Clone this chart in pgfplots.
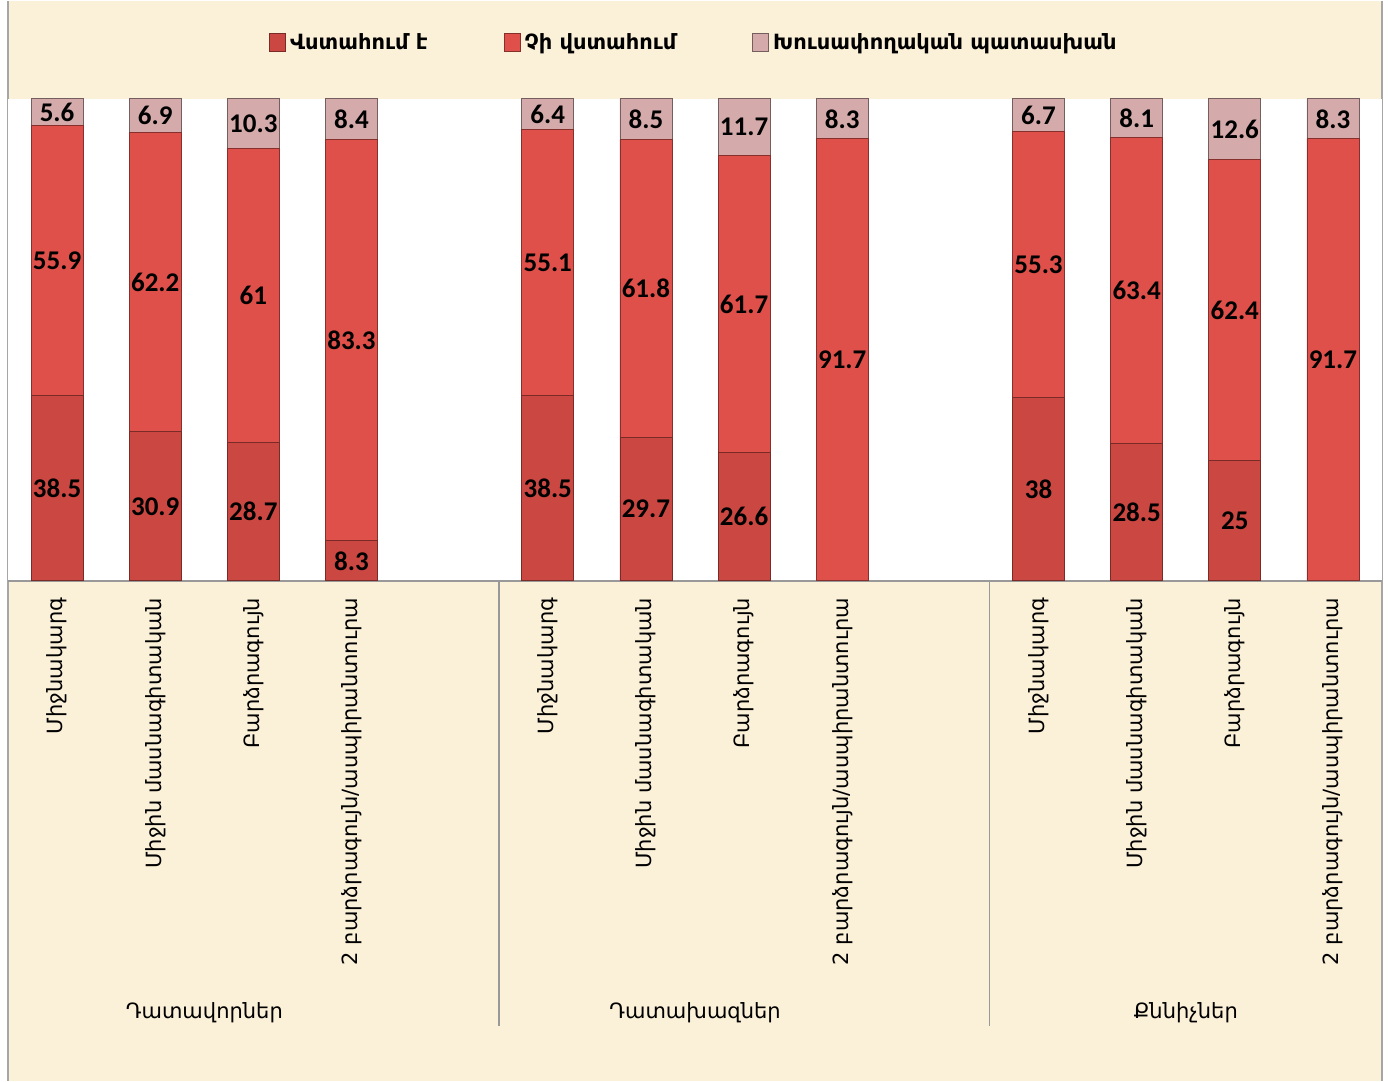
\documentclass[border=0pt]{standalone}
\usepackage{pgfplots}
\pgfplotsset{compat=1.18}
\usepackage{fontspec}
\setmainfont{DejaVu Sans}
\newfontfamily\numfont{Carlito}

\definecolor{bgbeige}{HTML}{FBF0D8}
\definecolor{cTrust}{HTML}{CB4741}
\definecolor{cNo}{HTML}{DE5049}
\definecolor{cEva}{HTML}{D4AAAA}

% bottom: trust, middle: do not trust, top: evasive answer
\pgfplotstableread{
x  y    lab
0  38.5 38.5
1  30.9 30.9
2  28.7 28.7
3  8.3  8.3
5  38.5 38.5
6  29.7 29.7
7  26.6 26.6
8  0    {}
10 38   38
11 28.5 28.5
12 25   25
13 0    {}
}\trust
\pgfplotstableread{
x  y    lab
0  55.9 55.9
1  62.2 62.2
2  61   61
3  83.3 83.3
5  55.1 55.1
6  61.8 61.8
7  61.7 61.7
8  91.7 91.7
10 55.3 55.3
11 63.4 63.4
12 62.4 62.4
13 91.7 91.7
}\notrust
\pgfplotstableread{
x  y    lab
0  5.6  5.6
1  6.9  6.9
2  10.3 10.3
3  8.4  8.4
5  6.4  6.4
6  8.5  8.5
7  11.7 11.7
8  8.3  8.3
10 6.7  6.7
11 8.1  8.1
12 12.6 12.6
13 8.3  8.3
}\evasive

\begin{document}
\begin{tikzpicture}
% page and chart background (1px = 0.5pt, origin at lower left of plot area)
\fill[white] (-4pt,-250pt) rectangle (690pt,290pt);
\fill[bgbeige] (0pt,-250pt) rectangle (687pt,290pt);
\draw[gray!70, line width=0.8pt] (0pt,-250pt) -- (0pt,290pt);
\draw[gray!70, line width=0.8pt] (687pt,-250pt) -- (687pt,290pt);
\begin{axis}[
    at={(0pt,0pt)}, anchor=south west,
    scale only axis,
    width=687pt, height=241pt,
    ybar stacked,
    bar width=26pt,
    xmin=-0.5, xmax=13.5,
    ymin=0, ymax=100,
    axis background/.style={fill=white},
    axis y line=none,
    axis x line*=bottom,
    x axis line style={gray!80, line width=0.8pt},
    xtick={0,1,2,3,5,6,7,8,10,11,12,13},
    xticklabels={Միջնակարգ,Միջին մասնագիտական,Բարձրագույն,2 բարձրագույն/ասպիրանտուրա,
                 Միջնակարգ,Միջին մասնագիտական,Բարձրագույն,2 բարձրագույն/ասպիրանտուրա,
                 Միջնակարգ,Միջին մասնագիտական,Բարձրագույն,2 բարձրագույն/ասպիրանտուրա},
    xtick style={draw=none},
    xticklabel style={rotate=90, anchor=east, font=\fontsize{10.5}{12}\selectfont, xshift=-5pt},
    point meta=explicit symbolic,
    nodes near coords={\pgfplotspointmeta},
    every node near coord/.append style={anchor=center, font=\numfont\bfseries\fontsize{13.5}{15}\selectfont},
    legend style={at={(0.5,1.116)}, anchor=center, draw=none, fill=none,
        legend columns=3, font=\bfseries\fontsize{10.5}{12}\selectfont,
        /tikz/every even column/.append style={column sep=36pt}},
    legend image code/.code={\fill[#1] (0pt,-4.5pt) rectangle (8pt,4.5pt);},
    clip=false,
]
\addplot[draw=cTrust!60!black, fill=cTrust] table[x=x, y=y, meta=lab] {\trust};
\addlegendentry{Վստահում է}
\addplot[draw=cNo!60!black, fill=cNo] table[x=x, y=y, meta=lab] {\notrust};
\addlegendentry{Չի վստահում}
\addplot[draw=cEva!55!black, fill=cEva] table[x=x, y=y, meta=lab] {\evasive};
\addlegendentry{Խուսափողական պատասխան}

% group separators and group names
\draw[gray!80, line width=0.8pt] (axis cs:4.5,0) -- ([yshift=-222.5pt]axis cs:4.5,0);
\draw[gray!80, line width=0.8pt] (axis cs:9.5,0) -- ([yshift=-222.5pt]axis cs:9.5,0);
\node[font=\fontsize{10.5}{12}\selectfont] at ([yshift=-216pt]axis cs:1.5,0) {Դատավորներ};
\node[font=\fontsize{10.5}{12}\selectfont] at ([yshift=-216pt]axis cs:6.5,0) {Դատախազներ};
\node[font=\fontsize{10.5}{12}\selectfont] at ([yshift=-216pt]axis cs:11.5,0) {Քննիչներ};
\end{axis}
\end{tikzpicture}
\end{document}
